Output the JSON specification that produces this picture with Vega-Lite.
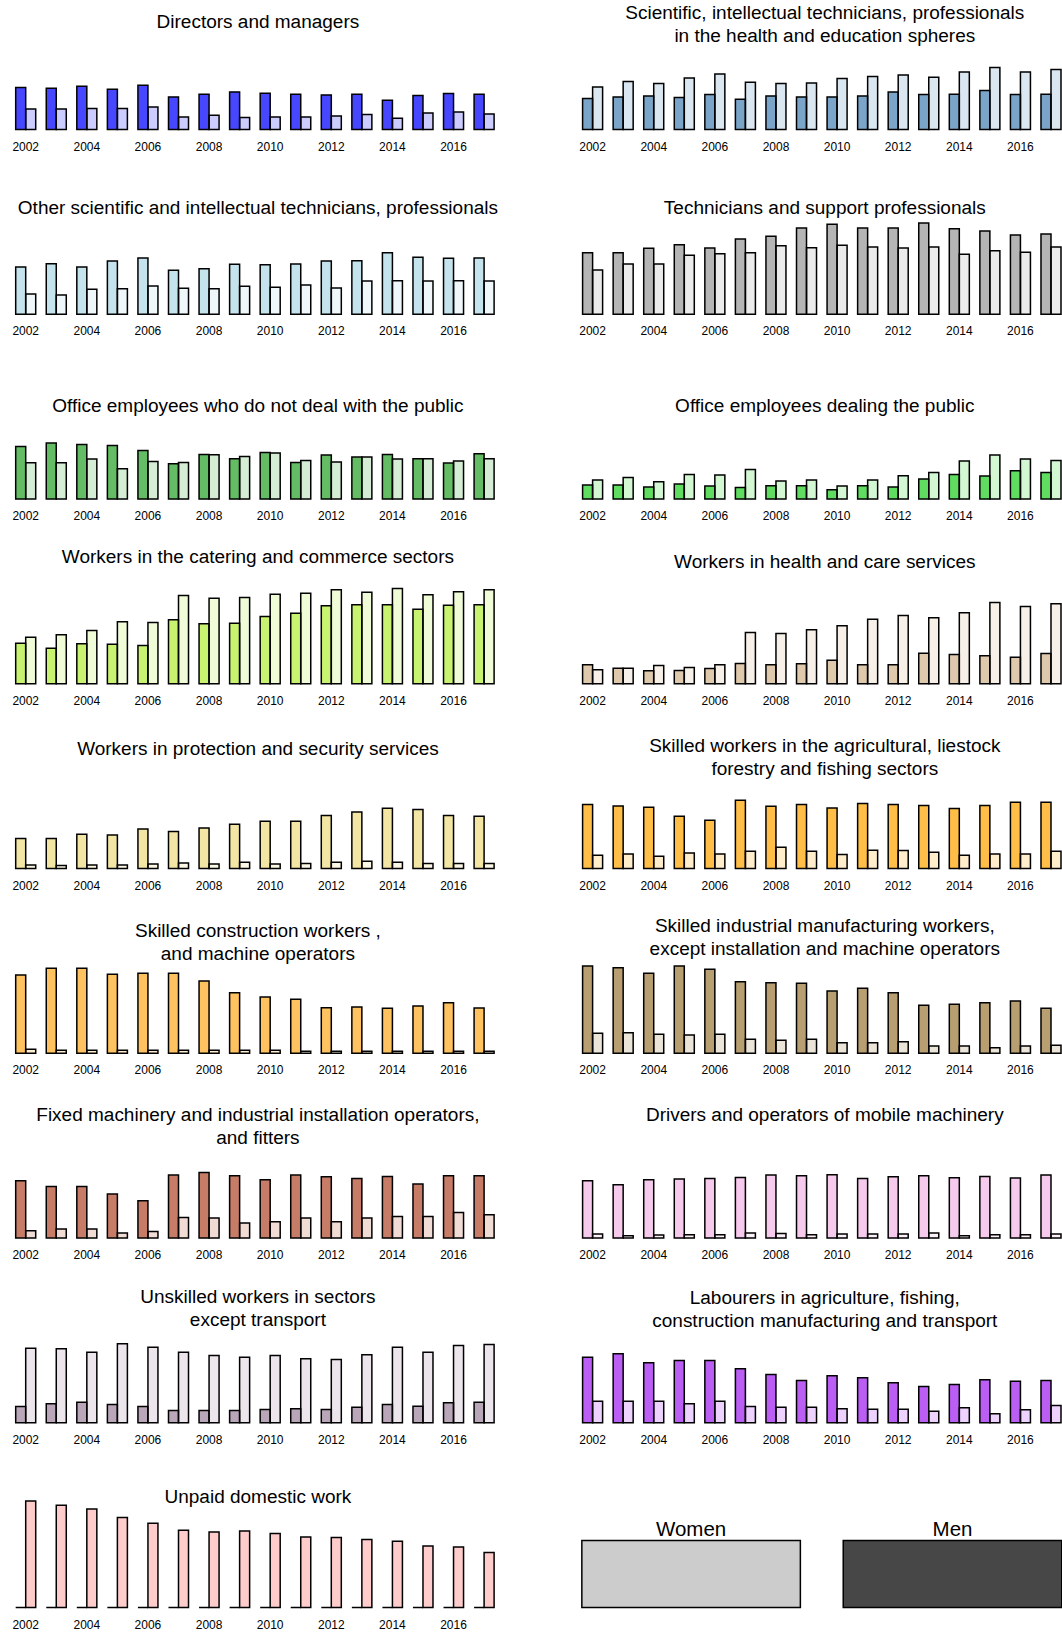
{
  "$schema": "https://vega.github.io/schema/vega-lite/v6.json",
  "padding": {"left": 10.5, "top": 3.6, "right": 0, "bottom": 0},
  "columns": 2,
  "bounds": "flush",
  "spacing": {"row": 72.75, "column": 77.9},
  "config": {
    "font": "Liberation Sans",
    "view": {"stroke": null},
    "title": {"fontSize": 19, "fontWeight": "normal", "color": "black", "anchor": "middle", "frame": "group", "lineHeight": 23, "dx": 3},
    "axisX": {"domain": false, "ticks": false, "tickSize": 0, "labelPadding": 11.5, "labelAngle": 0, "labelFontSize": 12, "labelColor": "black", "grid": false, "labelExpr": "datum.value % 2 == 0 ? datum.label : ''"}
  },
  "datasets": {
    "p01": [
      {"year":2002,"sex":"Men","v":42},{"year":2003,"sex":"Men","v":41.3},{"year":2004,"sex":"Men","v":43.3},{"year":2005,"sex":"Men","v":40.3},{"year":2006,"sex":"Men","v":44.3},{"year":2007,"sex":"Men","v":32.7},{"year":2008,"sex":"Men","v":35.3},{"year":2009,"sex":"Men","v":37.7},{"year":2010,"sex":"Men","v":36.3},{"year":2011,"sex":"Men","v":35.3},{"year":2012,"sex":"Men","v":34.7},{"year":2013,"sex":"Men","v":35.3},{"year":2014,"sex":"Men","v":29.3},{"year":2015,"sex":"Men","v":34},{"year":2016,"sex":"Men","v":36},{"year":2017,"sex":"Men","v":35.3},
      {"year":2002,"sex":"Women","v":20.7},{"year":2003,"sex":"Women","v":20.7},{"year":2004,"sex":"Women","v":21},{"year":2005,"sex":"Women","v":21},{"year":2006,"sex":"Women","v":22.7},{"year":2007,"sex":"Women","v":12.7},{"year":2008,"sex":"Women","v":14.3},{"year":2009,"sex":"Women","v":12},{"year":2010,"sex":"Women","v":12.7},{"year":2011,"sex":"Women","v":12.7},{"year":2012,"sex":"Women","v":13.7},{"year":2013,"sex":"Women","v":15},{"year":2014,"sex":"Women","v":11.3},{"year":2015,"sex":"Women","v":16.7},{"year":2016,"sex":"Women","v":17.7},{"year":2017,"sex":"Women","v":15.7}
    ],
    "p02": [
      {"year":2002,"sex":"Men","v":31},{"year":2003,"sex":"Men","v":32.7},{"year":2004,"sex":"Men","v":33.7},{"year":2005,"sex":"Men","v":32},{"year":2006,"sex":"Men","v":35},{"year":2007,"sex":"Men","v":30.3},{"year":2008,"sex":"Men","v":33.7},{"year":2009,"sex":"Men","v":32.7},{"year":2010,"sex":"Men","v":32.7},{"year":2011,"sex":"Men","v":33.7},{"year":2012,"sex":"Men","v":37.7},{"year":2013,"sex":"Men","v":35},{"year":2014,"sex":"Men","v":35.3},{"year":2015,"sex":"Men","v":39},{"year":2016,"sex":"Men","v":35},{"year":2017,"sex":"Men","v":35.3},
      {"year":2002,"sex":"Women","v":42.7},{"year":2003,"sex":"Women","v":48},{"year":2004,"sex":"Women","v":46},{"year":2005,"sex":"Women","v":51.7},{"year":2006,"sex":"Women","v":55.7},{"year":2007,"sex":"Women","v":47.3},{"year":2008,"sex":"Women","v":46},{"year":2009,"sex":"Women","v":46.7},{"year":2010,"sex":"Women","v":51},{"year":2011,"sex":"Women","v":53},{"year":2012,"sex":"Women","v":54.7},{"year":2013,"sex":"Women","v":52.3},{"year":2014,"sex":"Women","v":57.7},{"year":2015,"sex":"Women","v":62},{"year":2016,"sex":"Women","v":57.7},{"year":2017,"sex":"Women","v":60}
    ],
    "p03": [
      {"year":2002,"sex":"Men","v":47.3},{"year":2003,"sex":"Men","v":50.7},{"year":2004,"sex":"Men","v":47.3},{"year":2005,"sex":"Men","v":53.3},{"year":2006,"sex":"Men","v":56.3},{"year":2007,"sex":"Men","v":44},{"year":2008,"sex":"Men","v":45.7},{"year":2009,"sex":"Men","v":50},{"year":2010,"sex":"Men","v":49.7},{"year":2011,"sex":"Men","v":50.3},{"year":2012,"sex":"Men","v":53.3},{"year":2013,"sex":"Men","v":53.7},{"year":2014,"sex":"Men","v":61.7},{"year":2015,"sex":"Men","v":57},{"year":2016,"sex":"Men","v":56},{"year":2017,"sex":"Men","v":56.3},
      {"year":2002,"sex":"Women","v":20.3},{"year":2003,"sex":"Women","v":19.3},{"year":2004,"sex":"Women","v":25},{"year":2005,"sex":"Women","v":25.7},{"year":2006,"sex":"Women","v":28.3},{"year":2007,"sex":"Women","v":26},{"year":2008,"sex":"Women","v":25.7},{"year":2009,"sex":"Women","v":28},{"year":2010,"sex":"Women","v":27},{"year":2011,"sex":"Women","v":29.3},{"year":2012,"sex":"Women","v":26.3},{"year":2013,"sex":"Women","v":33.3},{"year":2014,"sex":"Women","v":33.7},{"year":2015,"sex":"Women","v":33.3},{"year":2016,"sex":"Women","v":33.7},{"year":2017,"sex":"Women","v":33.3}
    ],
    "p04": [
      {"year":2002,"sex":"Men","v":61.7},{"year":2003,"sex":"Men","v":61.7},{"year":2004,"sex":"Men","v":66},{"year":2005,"sex":"Men","v":69.7},{"year":2006,"sex":"Men","v":66.3},{"year":2007,"sex":"Men","v":75.3},{"year":2008,"sex":"Men","v":78},{"year":2009,"sex":"Men","v":86.3},{"year":2010,"sex":"Men","v":90},{"year":2011,"sex":"Men","v":86.3},{"year":2012,"sex":"Men","v":86.3},{"year":2013,"sex":"Men","v":91.3},{"year":2014,"sex":"Men","v":85.7},{"year":2015,"sex":"Men","v":83.3},{"year":2016,"sex":"Men","v":79.3},{"year":2017,"sex":"Men","v":80.3},
      {"year":2002,"sex":"Women","v":44.3},{"year":2003,"sex":"Women","v":50.3},{"year":2004,"sex":"Women","v":50.3},{"year":2005,"sex":"Women","v":59},{"year":2006,"sex":"Women","v":60.7},{"year":2007,"sex":"Women","v":61.7},{"year":2008,"sex":"Women","v":68.7},{"year":2009,"sex":"Women","v":66.7},{"year":2010,"sex":"Women","v":69},{"year":2011,"sex":"Women","v":67.3},{"year":2012,"sex":"Women","v":66.3},{"year":2013,"sex":"Women","v":67.3},{"year":2014,"sex":"Women","v":60},{"year":2015,"sex":"Women","v":63.7},{"year":2016,"sex":"Women","v":62},{"year":2017,"sex":"Women","v":67.3}
    ],
    "p05": [
      {"year":2002,"sex":"Men","v":52.7},{"year":2003,"sex":"Men","v":56},{"year":2004,"sex":"Men","v":54.7},{"year":2005,"sex":"Men","v":53.7},{"year":2006,"sex":"Men","v":48.7},{"year":2007,"sex":"Men","v":35.3},{"year":2008,"sex":"Men","v":44.7},{"year":2009,"sex":"Men","v":40.3},{"year":2010,"sex":"Men","v":46.7},{"year":2011,"sex":"Men","v":36.7},{"year":2012,"sex":"Men","v":44},{"year":2013,"sex":"Men","v":42},{"year":2014,"sex":"Men","v":44.7},{"year":2015,"sex":"Men","v":40.3},{"year":2016,"sex":"Men","v":36},{"year":2017,"sex":"Men","v":45.3},
      {"year":2002,"sex":"Women","v":36.3},{"year":2003,"sex":"Women","v":36.3},{"year":2004,"sex":"Women","v":40},{"year":2005,"sex":"Women","v":30.3},{"year":2006,"sex":"Women","v":37.7},{"year":2007,"sex":"Women","v":36.7},{"year":2008,"sex":"Women","v":44.3},{"year":2009,"sex":"Women","v":42.7},{"year":2010,"sex":"Women","v":46},{"year":2011,"sex":"Women","v":38.7},{"year":2012,"sex":"Women","v":37},{"year":2013,"sex":"Women","v":42},{"year":2014,"sex":"Women","v":40},{"year":2015,"sex":"Women","v":40.3},{"year":2016,"sex":"Women","v":38},{"year":2017,"sex":"Women","v":40.3}
    ],
    "p06": [
      {"year":2002,"sex":"Men","v":14},{"year":2003,"sex":"Men","v":14},{"year":2004,"sex":"Men","v":12},{"year":2005,"sex":"Men","v":15},{"year":2006,"sex":"Men","v":13},{"year":2007,"sex":"Men","v":11.7},{"year":2008,"sex":"Men","v":13.3},{"year":2009,"sex":"Men","v":13.3},{"year":2010,"sex":"Men","v":9.3},{"year":2011,"sex":"Men","v":13.3},{"year":2012,"sex":"Men","v":12},{"year":2013,"sex":"Men","v":20},{"year":2014,"sex":"Men","v":24.7},{"year":2015,"sex":"Men","v":23},{"year":2016,"sex":"Men","v":28.3},{"year":2017,"sex":"Men","v":26.7},
      {"year":2002,"sex":"Women","v":19},{"year":2003,"sex":"Women","v":21.7},{"year":2004,"sex":"Women","v":17.3},{"year":2005,"sex":"Women","v":24.7},{"year":2006,"sex":"Women","v":24},{"year":2007,"sex":"Women","v":29.7},{"year":2008,"sex":"Women","v":18},{"year":2009,"sex":"Women","v":19},{"year":2010,"sex":"Women","v":13},{"year":2011,"sex":"Women","v":19},{"year":2012,"sex":"Women","v":23.3},{"year":2013,"sex":"Women","v":26.7},{"year":2014,"sex":"Women","v":38},{"year":2015,"sex":"Women","v":44},{"year":2016,"sex":"Women","v":40},{"year":2017,"sex":"Women","v":38.7}
    ],
    "p07": [
      {"year":2002,"sex":"Men","v":40.7},{"year":2003,"sex":"Men","v":35.7},{"year":2004,"sex":"Men","v":40},{"year":2005,"sex":"Men","v":39.7},{"year":2006,"sex":"Men","v":38.3},{"year":2007,"sex":"Men","v":64},{"year":2008,"sex":"Men","v":60},{"year":2009,"sex":"Men","v":60.7},{"year":2010,"sex":"Men","v":67.3},{"year":2011,"sex":"Men","v":70.7},{"year":2012,"sex":"Men","v":78},{"year":2013,"sex":"Men","v":79},{"year":2014,"sex":"Men","v":79},{"year":2015,"sex":"Men","v":74.7},{"year":2016,"sex":"Men","v":78.7},{"year":2017,"sex":"Men","v":79},
      {"year":2002,"sex":"Women","v":46.7},{"year":2003,"sex":"Women","v":49},{"year":2004,"sex":"Women","v":53.3},{"year":2005,"sex":"Women","v":62},{"year":2006,"sex":"Women","v":61.3},{"year":2007,"sex":"Women","v":88.3},{"year":2008,"sex":"Women","v":85.7},{"year":2009,"sex":"Women","v":86.3},{"year":2010,"sex":"Women","v":89.7},{"year":2011,"sex":"Women","v":90.7},{"year":2012,"sex":"Women","v":94},{"year":2013,"sex":"Women","v":91.7},{"year":2014,"sex":"Women","v":95.3},{"year":2015,"sex":"Women","v":89},{"year":2016,"sex":"Women","v":92},{"year":2017,"sex":"Women","v":94}
    ],
    "p08": [
      {"year":2002,"sex":"Men","v":19},{"year":2003,"sex":"Men","v":15.7},{"year":2004,"sex":"Men","v":13},{"year":2005,"sex":"Men","v":13.3},{"year":2006,"sex":"Men","v":15.3},{"year":2007,"sex":"Men","v":20.3},{"year":2008,"sex":"Men","v":19},{"year":2009,"sex":"Men","v":20},{"year":2010,"sex":"Men","v":23.7},{"year":2011,"sex":"Men","v":19},{"year":2012,"sex":"Men","v":19},{"year":2013,"sex":"Men","v":30.7},{"year":2014,"sex":"Men","v":29.3},{"year":2015,"sex":"Men","v":28},{"year":2016,"sex":"Men","v":26.7},{"year":2017,"sex":"Men","v":30.3},
      {"year":2002,"sex":"Women","v":14},{"year":2003,"sex":"Women","v":15.7},{"year":2004,"sex":"Women","v":18.3},{"year":2005,"sex":"Women","v":16.3},{"year":2006,"sex":"Women","v":19},{"year":2007,"sex":"Women","v":51.3},{"year":2008,"sex":"Women","v":50.3},{"year":2009,"sex":"Women","v":54},{"year":2010,"sex":"Women","v":58},{"year":2011,"sex":"Women","v":64.7},{"year":2012,"sex":"Women","v":68.3},{"year":2013,"sex":"Women","v":66},{"year":2014,"sex":"Women","v":71},{"year":2015,"sex":"Women","v":81.3},{"year":2016,"sex":"Women","v":77.3},{"year":2017,"sex":"Women","v":80}
    ],
    "p09": [
      {"year":2002,"sex":"Men","v":30},{"year":2003,"sex":"Men","v":30},{"year":2004,"sex":"Men","v":34.3},{"year":2005,"sex":"Men","v":33.7},{"year":2006,"sex":"Men","v":39.7},{"year":2007,"sex":"Men","v":37},{"year":2008,"sex":"Men","v":40.7},{"year":2009,"sex":"Men","v":44.3},{"year":2010,"sex":"Men","v":47.3},{"year":2011,"sex":"Men","v":47.3},{"year":2012,"sex":"Men","v":53},{"year":2013,"sex":"Men","v":56.7},{"year":2014,"sex":"Men","v":60.3},{"year":2015,"sex":"Men","v":59},{"year":2016,"sex":"Men","v":53},{"year":2017,"sex":"Men","v":52.3},
      {"year":2002,"sex":"Women","v":3.7},{"year":2003,"sex":"Women","v":3},{"year":2004,"sex":"Women","v":3.7},{"year":2005,"sex":"Women","v":3.7},{"year":2006,"sex":"Women","v":4.7},{"year":2007,"sex":"Women","v":5.7},{"year":2008,"sex":"Women","v":4.7},{"year":2009,"sex":"Women","v":6.3},{"year":2010,"sex":"Women","v":4.7},{"year":2011,"sex":"Women","v":5},{"year":2012,"sex":"Women","v":6.3},{"year":2013,"sex":"Women","v":7.3},{"year":2014,"sex":"Women","v":6.3},{"year":2015,"sex":"Women","v":5},{"year":2016,"sex":"Women","v":5},{"year":2017,"sex":"Women","v":5}
    ],
    "p10": [
      {"year":2002,"sex":"Men","v":64},{"year":2003,"sex":"Men","v":62.7},{"year":2004,"sex":"Men","v":61.3},{"year":2005,"sex":"Men","v":52.3},{"year":2006,"sex":"Men","v":48.3},{"year":2007,"sex":"Men","v":68.3},{"year":2008,"sex":"Men","v":62.3},{"year":2009,"sex":"Men","v":64},{"year":2010,"sex":"Men","v":60.7},{"year":2011,"sex":"Men","v":65},{"year":2012,"sex":"Men","v":64},{"year":2013,"sex":"Men","v":63},{"year":2014,"sex":"Men","v":60},{"year":2015,"sex":"Men","v":63},{"year":2016,"sex":"Men","v":66.3},{"year":2017,"sex":"Men","v":66.3},
      {"year":2002,"sex":"Women","v":13.3},{"year":2003,"sex":"Women","v":14.7},{"year":2004,"sex":"Women","v":12.3},{"year":2005,"sex":"Women","v":15.7},{"year":2006,"sex":"Women","v":14.7},{"year":2007,"sex":"Women","v":17.3},{"year":2008,"sex":"Women","v":21.3},{"year":2009,"sex":"Women","v":17.3},{"year":2010,"sex":"Women","v":14},{"year":2011,"sex":"Women","v":18.3},{"year":2012,"sex":"Women","v":18},{"year":2013,"sex":"Women","v":16.3},{"year":2014,"sex":"Women","v":13.3},{"year":2015,"sex":"Women","v":14.7},{"year":2016,"sex":"Women","v":14.7},{"year":2017,"sex":"Women","v":17.3}
    ],
    "p11": [
      {"year":2002,"sex":"Men","v":78.3},{"year":2003,"sex":"Men","v":85},{"year":2004,"sex":"Men","v":85},{"year":2005,"sex":"Men","v":79},{"year":2006,"sex":"Men","v":80},{"year":2007,"sex":"Men","v":80},{"year":2008,"sex":"Men","v":72.3},{"year":2009,"sex":"Men","v":60.7},{"year":2010,"sex":"Men","v":56.3},{"year":2011,"sex":"Men","v":54},{"year":2012,"sex":"Men","v":45.7},{"year":2013,"sex":"Men","v":46.3},{"year":2014,"sex":"Men","v":45},{"year":2015,"sex":"Men","v":47.3},{"year":2016,"sex":"Men","v":50.7},{"year":2017,"sex":"Men","v":45.3},
      {"year":2002,"sex":"Women","v":4},{"year":2003,"sex":"Women","v":3},{"year":2004,"sex":"Women","v":3},{"year":2005,"sex":"Women","v":3},{"year":2006,"sex":"Women","v":3},{"year":2007,"sex":"Women","v":3},{"year":2008,"sex":"Women","v":3},{"year":2009,"sex":"Women","v":3},{"year":2010,"sex":"Women","v":3},{"year":2011,"sex":"Women","v":2},{"year":2012,"sex":"Women","v":2},{"year":2013,"sex":"Women","v":2},{"year":2014,"sex":"Women","v":2},{"year":2015,"sex":"Women","v":2},{"year":2016,"sex":"Women","v":2},{"year":2017,"sex":"Women","v":2}
    ],
    "p12": [
      {"year":2002,"sex":"Men","v":87.3},{"year":2003,"sex":"Men","v":85.7},{"year":2004,"sex":"Men","v":80},{"year":2005,"sex":"Men","v":87.3},{"year":2006,"sex":"Men","v":84},{"year":2007,"sex":"Men","v":71.7},{"year":2008,"sex":"Men","v":70.7},{"year":2009,"sex":"Men","v":70},{"year":2010,"sex":"Men","v":62.3},{"year":2011,"sex":"Men","v":65},{"year":2012,"sex":"Men","v":60.7},{"year":2013,"sex":"Men","v":48},{"year":2014,"sex":"Men","v":49},{"year":2015,"sex":"Men","v":50.7},{"year":2016,"sex":"Men","v":52.3},{"year":2017,"sex":"Men","v":45},
      {"year":2002,"sex":"Women","v":20},{"year":2003,"sex":"Women","v":20.7},{"year":2004,"sex":"Women","v":19},{"year":2005,"sex":"Women","v":18.3},{"year":2006,"sex":"Women","v":19},{"year":2007,"sex":"Women","v":14},{"year":2008,"sex":"Women","v":13},{"year":2009,"sex":"Women","v":14},{"year":2010,"sex":"Women","v":10.7},{"year":2011,"sex":"Women","v":10.7},{"year":2012,"sex":"Women","v":11.7},{"year":2013,"sex":"Women","v":7.3},{"year":2014,"sex":"Women","v":7.3},{"year":2015,"sex":"Women","v":5.7},{"year":2016,"sex":"Women","v":7.3},{"year":2017,"sex":"Women","v":8}
    ],
    "p13": [
      {"year":2002,"sex":"Men","v":57.3},{"year":2003,"sex":"Men","v":51.7},{"year":2004,"sex":"Men","v":51.7},{"year":2005,"sex":"Men","v":44},{"year":2006,"sex":"Men","v":37.3},{"year":2007,"sex":"Men","v":63},{"year":2008,"sex":"Men","v":65.7},{"year":2009,"sex":"Men","v":62.3},{"year":2010,"sex":"Men","v":58.3},{"year":2011,"sex":"Men","v":63},{"year":2012,"sex":"Men","v":61.3},{"year":2013,"sex":"Men","v":59.7},{"year":2014,"sex":"Men","v":61.7},{"year":2015,"sex":"Men","v":54},{"year":2016,"sex":"Men","v":62.3},{"year":2017,"sex":"Men","v":62.3},
      {"year":2002,"sex":"Women","v":7.3},{"year":2003,"sex":"Women","v":9},{"year":2004,"sex":"Women","v":9},{"year":2005,"sex":"Women","v":5},{"year":2006,"sex":"Women","v":6.7},{"year":2007,"sex":"Women","v":20.7},{"year":2008,"sex":"Women","v":20},{"year":2009,"sex":"Women","v":15},{"year":2010,"sex":"Women","v":16.3},{"year":2011,"sex":"Women","v":20},{"year":2012,"sex":"Women","v":16.3},{"year":2013,"sex":"Women","v":20},{"year":2014,"sex":"Women","v":21.7},{"year":2015,"sex":"Women","v":21.7},{"year":2016,"sex":"Women","v":25.7},{"year":2017,"sex":"Women","v":23.3}
    ],
    "p14": [
      {"year":2002,"sex":"Men","v":57.3},{"year":2003,"sex":"Men","v":53.3},{"year":2004,"sex":"Men","v":58.3},{"year":2005,"sex":"Men","v":59},{"year":2006,"sex":"Men","v":59.7},{"year":2007,"sex":"Men","v":60.7},{"year":2008,"sex":"Men","v":63},{"year":2009,"sex":"Men","v":62.3},{"year":2010,"sex":"Men","v":63.3},{"year":2011,"sex":"Men","v":59.7},{"year":2012,"sex":"Men","v":61.3},{"year":2013,"sex":"Men","v":62.3},{"year":2014,"sex":"Men","v":60.3},{"year":2015,"sex":"Men","v":61.7},{"year":2016,"sex":"Men","v":60},{"year":2017,"sex":"Men","v":63},
      {"year":2002,"sex":"Women","v":4},{"year":2003,"sex":"Women","v":2.3},{"year":2004,"sex":"Women","v":3},{"year":2005,"sex":"Women","v":3.3},{"year":2006,"sex":"Women","v":3.3},{"year":2007,"sex":"Women","v":5},{"year":2008,"sex":"Women","v":4.7},{"year":2009,"sex":"Women","v":3.3},{"year":2010,"sex":"Women","v":4},{"year":2011,"sex":"Women","v":4},{"year":2012,"sex":"Women","v":4},{"year":2013,"sex":"Women","v":5},{"year":2014,"sex":"Women","v":2.3},{"year":2015,"sex":"Women","v":3.3},{"year":2016,"sex":"Women","v":3.3},{"year":2017,"sex":"Women","v":4}
    ],
    "p15": [
      {"year":2002,"sex":"Men","v":16.3},{"year":2003,"sex":"Men","v":19},{"year":2004,"sex":"Men","v":20.7},{"year":2005,"sex":"Men","v":18.3},{"year":2006,"sex":"Men","v":16.3},{"year":2007,"sex":"Men","v":12.3},{"year":2008,"sex":"Men","v":12.3},{"year":2009,"sex":"Men","v":12.3},{"year":2010,"sex":"Men","v":13.3},{"year":2011,"sex":"Men","v":14},{"year":2012,"sex":"Men","v":13.3},{"year":2013,"sex":"Men","v":15.7},{"year":2014,"sex":"Men","v":18.3},{"year":2015,"sex":"Men","v":16.7},{"year":2016,"sex":"Men","v":20},{"year":2017,"sex":"Men","v":20.7},
      {"year":2002,"sex":"Women","v":74.7},{"year":2003,"sex":"Women","v":74},{"year":2004,"sex":"Women","v":70.7},{"year":2005,"sex":"Women","v":79},{"year":2006,"sex":"Women","v":75.7},{"year":2007,"sex":"Women","v":70.7},{"year":2008,"sex":"Women","v":67.3},{"year":2009,"sex":"Women","v":65.7},{"year":2010,"sex":"Women","v":67.3},{"year":2011,"sex":"Women","v":64},{"year":2012,"sex":"Women","v":63.3},{"year":2013,"sex":"Women","v":68},{"year":2014,"sex":"Women","v":75.7},{"year":2015,"sex":"Women","v":70.7},{"year":2016,"sex":"Women","v":77.3},{"year":2017,"sex":"Women","v":78.3}
    ],
    "p16": [
      {"year":2002,"sex":"Men","v":65.7},{"year":2003,"sex":"Men","v":69},{"year":2004,"sex":"Men","v":60},{"year":2005,"sex":"Men","v":62.3},{"year":2006,"sex":"Men","v":62.3},{"year":2007,"sex":"Men","v":54},{"year":2008,"sex":"Men","v":48.3},{"year":2009,"sex":"Men","v":42.3},{"year":2010,"sex":"Men","v":47},{"year":2011,"sex":"Men","v":45},{"year":2012,"sex":"Men","v":40},{"year":2013,"sex":"Men","v":36.3},{"year":2014,"sex":"Men","v":38.3},{"year":2015,"sex":"Men","v":43},{"year":2016,"sex":"Men","v":41.7},{"year":2017,"sex":"Men","v":42.3},
      {"year":2002,"sex":"Women","v":21.7},{"year":2003,"sex":"Women","v":21.7},{"year":2004,"sex":"Women","v":21.7},{"year":2005,"sex":"Women","v":19},{"year":2006,"sex":"Women","v":21.7},{"year":2007,"sex":"Women","v":16.3},{"year":2008,"sex":"Women","v":15.7},{"year":2009,"sex":"Women","v":15.7},{"year":2010,"sex":"Women","v":14},{"year":2011,"sex":"Women","v":13.7},{"year":2012,"sex":"Women","v":13.7},{"year":2013,"sex":"Women","v":11.7},{"year":2014,"sex":"Women","v":15},{"year":2015,"sex":"Women","v":9},{"year":2016,"sex":"Women","v":13},{"year":2017,"sex":"Women","v":17.3}
    ],
    "p17": [
      {"year":2002,"sex":"Men","v":0},{"year":2003,"sex":"Men","v":0},{"year":2004,"sex":"Men","v":0},{"year":2005,"sex":"Men","v":0},{"year":2006,"sex":"Men","v":0},{"year":2007,"sex":"Men","v":0},{"year":2008,"sex":"Men","v":0},{"year":2009,"sex":"Men","v":0},{"year":2010,"sex":"Men","v":0},{"year":2011,"sex":"Men","v":0},{"year":2012,"sex":"Men","v":0},{"year":2013,"sex":"Men","v":0},{"year":2014,"sex":"Men","v":0},{"year":2015,"sex":"Men","v":0},{"year":2016,"sex":"Men","v":0},{"year":2017,"sex":"Men","v":0},
      {"year":2002,"sex":"Women","v":106.7},{"year":2003,"sex":"Women","v":102.3},{"year":2004,"sex":"Women","v":98.7},{"year":2005,"sex":"Women","v":90},{"year":2006,"sex":"Women","v":84.3},{"year":2007,"sex":"Women","v":77.3},{"year":2008,"sex":"Women","v":75.7},{"year":2009,"sex":"Women","v":76.7},{"year":2010,"sex":"Women","v":74},{"year":2011,"sex":"Women","v":70.7},{"year":2012,"sex":"Women","v":70},{"year":2013,"sex":"Women","v":68},{"year":2014,"sex":"Women","v":66.3},{"year":2015,"sex":"Women","v":61.7},{"year":2016,"sex":"Women","v":60.7},{"year":2017,"sex":"Women","v":55}
    ],
    "key": [{"sex": "Women"}, {"sex": "Men"}]
  },
  "concat": [
    {"title": {"text": "Directors and managers", "offset": -14.2}, "width": 488.8, "height": 112, "data": {"name": "p01"},
     "mark": {"type": "bar", "fill": "#0000ff", "stroke": "black", "strokeWidth": 1.5},
     "encoding": {"x": {"field": "year", "type": "ordinal", "scale": {"paddingInner": 0.345, "paddingOuter": 0.17}, "axis": {"title": null}}, "xOffset": {"field": "sex", "type": "nominal", "sort": ["Men", "Women"], "scale": {"paddingInner": 0, "paddingOuter": 0}}, "y": {"field": "v", "type": "quantitative", "scale": {"domain": [0, 112], "nice": false}, "axis": null}, "fillOpacity": {"field": "sex", "type": "nominal", "scale": {"domain": ["Men", "Women"], "range": [0.72, 0.2]}, "legend": null}}},
    {"title": {"text": ["Scientific, intellectual technicians, professionals", "in the health and education spheres"], "offset": -28.3}, "width": 488.8, "height": 112, "data": {"name": "p02"},
     "mark": {"type": "bar", "fill": "#4682b4", "stroke": "black", "strokeWidth": 1.5},
     "encoding": {"x": {"field": "year", "type": "ordinal", "scale": {"paddingInner": 0.345, "paddingOuter": 0.17}, "axis": {"title": null}}, "xOffset": {"field": "sex", "type": "nominal", "sort": ["Men", "Women"], "scale": {"paddingInner": 0, "paddingOuter": 0}}, "y": {"field": "v", "type": "quantitative", "scale": {"domain": [0, 112], "nice": false}, "axis": null}, "fillOpacity": {"field": "sex", "type": "nominal", "scale": {"domain": ["Men", "Women"], "range": [0.72, 0.2]}, "legend": null}}},
    {"title": {"text": "Other scientific and intellectual technicians, professionals", "offset": -15.5}, "width": 488.8, "height": 112, "data": {"name": "p03"},
     "mark": {"type": "bar", "fill": "#add8e6", "stroke": "black", "strokeWidth": 1.5},
     "encoding": {"x": {"field": "year", "type": "ordinal", "scale": {"paddingInner": 0.345, "paddingOuter": 0.17}, "axis": {"title": null}}, "xOffset": {"field": "sex", "type": "nominal", "sort": ["Men", "Women"], "scale": {"paddingInner": 0, "paddingOuter": 0}}, "y": {"field": "v", "type": "quantitative", "scale": {"domain": [0, 112], "nice": false}, "axis": null}, "fillOpacity": {"field": "sex", "type": "nominal", "scale": {"domain": ["Men", "Women"], "range": [0.72, 0.2]}, "legend": null}}},
    {"title": {"text": "Technicians and support professionals", "offset": -15.5}, "width": 488.8, "height": 112, "data": {"name": "p04"},
     "mark": {"type": "bar", "fill": "#999999", "stroke": "black", "strokeWidth": 1.5},
     "encoding": {"x": {"field": "year", "type": "ordinal", "scale": {"paddingInner": 0.345, "paddingOuter": 0.17}, "axis": {"title": null}}, "xOffset": {"field": "sex", "type": "nominal", "sort": ["Men", "Women"], "scale": {"paddingInner": 0, "paddingOuter": 0}}, "y": {"field": "v", "type": "quantitative", "scale": {"domain": [0, 112], "nice": false}, "axis": null}, "fillOpacity": {"field": "sex", "type": "nominal", "scale": {"domain": ["Men", "Women"], "range": [0.72, 0.2]}, "legend": null}}},
    {"title": {"text": "Office employees who do not deal with the public", "offset": -29}, "width": 488.8, "height": 112, "data": {"name": "p05"},
     "mark": {"type": "bar", "fill": "#28a428", "stroke": "black", "strokeWidth": 1.5},
     "encoding": {"x": {"field": "year", "type": "ordinal", "scale": {"paddingInner": 0.345, "paddingOuter": 0.17}, "axis": {"title": null}}, "xOffset": {"field": "sex", "type": "nominal", "sort": ["Men", "Women"], "scale": {"paddingInner": 0, "paddingOuter": 0}}, "y": {"field": "v", "type": "quantitative", "scale": {"domain": [0, 112], "nice": false}, "axis": null}, "fillOpacity": {"field": "sex", "type": "nominal", "scale": {"domain": ["Men", "Women"], "range": [0.72, 0.2]}, "legend": null}}},
    {"title": {"text": "Office employees dealing the public", "offset": -29}, "width": 488.8, "height": 112, "data": {"name": "p06"},
     "mark": {"type": "bar", "fill": "#22d022", "stroke": "black", "strokeWidth": 1.5},
     "encoding": {"x": {"field": "year", "type": "ordinal", "scale": {"paddingInner": 0.345, "paddingOuter": 0.17}, "axis": {"title": null}}, "xOffset": {"field": "sex", "type": "nominal", "sort": ["Men", "Women"], "scale": {"paddingInner": 0, "paddingOuter": 0}}, "y": {"field": "v", "type": "quantitative", "scale": {"domain": [0, 112], "nice": false}, "axis": null}, "fillOpacity": {"field": "sex", "type": "nominal", "scale": {"domain": ["Men", "Women"], "range": [0.72, 0.2]}, "legend": null}}},
    {"title": {"text": "Workers in the catering and commerce sectors", "offset": 4.5}, "width": 488.8, "height": 112, "data": {"name": "p07"},
     "mark": {"type": "bar", "fill": "#b3ee3a", "stroke": "black", "strokeWidth": 1.5},
     "encoding": {"x": {"field": "year", "type": "ordinal", "scale": {"paddingInner": 0.345, "paddingOuter": 0.17}, "axis": {"title": null}}, "xOffset": {"field": "sex", "type": "nominal", "sort": ["Men", "Women"], "scale": {"paddingInner": 0, "paddingOuter": 0}}, "y": {"field": "v", "type": "quantitative", "scale": {"domain": [0, 112], "nice": false}, "axis": null}, "fillOpacity": {"field": "sex", "type": "nominal", "scale": {"domain": ["Men", "Women"], "range": [0.72, 0.2]}, "legend": null}}},
    {"title": {"text": "Workers in health and care services", "offset": 0.2}, "width": 488.8, "height": 112, "data": {"name": "p08"},
     "mark": {"type": "bar", "fill": "#d2b48c", "stroke": "black", "strokeWidth": 1.5},
     "encoding": {"x": {"field": "year", "type": "ordinal", "scale": {"paddingInner": 0.345, "paddingOuter": 0.17}, "axis": {"title": null}}, "xOffset": {"field": "sex", "type": "nominal", "sort": ["Men", "Women"], "scale": {"paddingInner": 0, "paddingOuter": 0}}, "y": {"field": "v", "type": "quantitative", "scale": {"domain": [0, 112], "nice": false}, "axis": null}, "fillOpacity": {"field": "sex", "type": "nominal", "scale": {"domain": ["Men", "Women"], "range": [0.72, 0.2]}, "legend": null}}},
    {"title": {"text": "Workers in protection and security services", "offset": -2.1}, "width": 488.8, "height": 112, "data": {"name": "p09"},
     "mark": {"type": "bar", "fill": "#eedd82", "stroke": "black", "strokeWidth": 1.5},
     "encoding": {"x": {"field": "year", "type": "ordinal", "scale": {"paddingInner": 0.345, "paddingOuter": 0.17}, "axis": {"title": null}}, "xOffset": {"field": "sex", "type": "nominal", "sort": ["Men", "Women"], "scale": {"paddingInner": 0, "paddingOuter": 0}}, "y": {"field": "v", "type": "quantitative", "scale": {"domain": [0, 112], "nice": false}, "axis": null}, "fillOpacity": {"field": "sex", "type": "nominal", "scale": {"domain": ["Men", "Women"], "range": [0.72, 0.2]}, "legend": null}}},
    {"title": {"text": ["Skilled workers in the agricultural, liestock", "forestry and fishing sectors"], "offset": -22}, "width": 488.8, "height": 112, "data": {"name": "p10"},
     "mark": {"type": "bar", "fill": "#ffa500", "stroke": "black", "strokeWidth": 1.5},
     "encoding": {"x": {"field": "year", "type": "ordinal", "scale": {"paddingInner": 0.345, "paddingOuter": 0.17}, "axis": {"title": null}}, "xOffset": {"field": "sex", "type": "nominal", "sort": ["Men", "Women"], "scale": {"paddingInner": 0, "paddingOuter": 0}}, "y": {"field": "v", "type": "quantitative", "scale": {"domain": [0, 112], "nice": false}, "axis": null}, "fillOpacity": {"field": "sex", "type": "nominal", "scale": {"domain": ["Men", "Women"], "range": [0.72, 0.2]}, "legend": null}}},
    {"title": {"text": ["Skilled construction workers ,", "and machine operators"], "offset": -22.8}, "width": 488.8, "height": 112, "data": {"name": "p11"},
     "mark": {"type": "bar", "fill": "#ffaa22", "stroke": "black", "strokeWidth": 1.5},
     "encoding": {"x": {"field": "year", "type": "ordinal", "scale": {"paddingInner": 0.345, "paddingOuter": 0.17}, "axis": {"title": null}}, "xOffset": {"field": "sex", "type": "nominal", "sort": ["Men", "Women"], "scale": {"paddingInner": 0, "paddingOuter": 0}}, "y": {"field": "v", "type": "quantitative", "scale": {"domain": [0, 112], "nice": false}, "axis": null}, "fillOpacity": {"field": "sex", "type": "nominal", "scale": {"domain": ["Men", "Women"], "range": [0.72, 0.2]}, "legend": null}}},
    {"title": {"text": ["Skilled industrial manufacturing workers,", "except installation and machine operators"], "offset": -17.3}, "width": 488.8, "height": 112, "data": {"name": "p12"},
     "mark": {"type": "bar", "fill": "#9c7a3c", "stroke": "black", "strokeWidth": 1.5},
     "encoding": {"x": {"field": "year", "type": "ordinal", "scale": {"paddingInner": 0.345, "paddingOuter": 0.17}, "axis": {"title": null}}, "xOffset": {"field": "sex", "type": "nominal", "sort": ["Men", "Women"], "scale": {"paddingInner": 0, "paddingOuter": 0}}, "y": {"field": "v", "type": "quantitative", "scale": {"domain": [0, 112], "nice": false}, "axis": null}, "fillOpacity": {"field": "sex", "type": "nominal", "scale": {"domain": ["Men", "Women"], "range": [0.72, 0.2]}, "legend": null}}},
    {"title": {"text": ["Fixed machinery and industrial installation operators,", "and fitters"], "offset": -22}, "width": 488.8, "height": 112, "data": {"name": "p13"},
     "mark": {"type": "bar", "fill": "#b24a2e", "stroke": "black", "strokeWidth": 1.5},
     "encoding": {"x": {"field": "year", "type": "ordinal", "scale": {"paddingInner": 0.345, "paddingOuter": 0.17}, "axis": {"title": null}}, "xOffset": {"field": "sex", "type": "nominal", "sort": ["Men", "Women"], "scale": {"paddingInner": 0, "paddingOuter": 0}}, "y": {"field": "v", "type": "quantitative", "scale": {"domain": [0, 112], "nice": false}, "axis": null}, "fillOpacity": {"field": "sex", "type": "nominal", "scale": {"domain": ["Men", "Women"], "range": [0.72, 0.2]}, "legend": null}}},
    {"title": {"text": "Drivers and operators of mobile machinery", "offset": 1.2}, "width": 488.8, "height": 112, "data": {"name": "p14"},
     "mark": {"type": "bar", "fill": "#f2b5e6", "stroke": "black", "strokeWidth": 1.5},
     "encoding": {"x": {"field": "year", "type": "ordinal", "scale": {"paddingInner": 0.345, "paddingOuter": 0.17}, "axis": {"title": null}}, "xOffset": {"field": "sex", "type": "nominal", "sort": ["Men", "Women"], "scale": {"paddingInner": 0, "paddingOuter": 0}}, "y": {"field": "v", "type": "quantitative", "scale": {"domain": [0, 112], "nice": false}, "axis": null}, "fillOpacity": {"field": "sex", "type": "nominal", "scale": {"domain": ["Men", "Women"], "range": [0.72, 0.2]}, "legend": null}}},
    {"title": {"text": ["Unskilled workers in sectors", "except transport"], "offset": -19.3}, "width": 488.8, "height": 112, "data": {"name": "p15"},
     "mark": {"type": "bar", "fill": "#a0849e", "stroke": "black", "strokeWidth": 1.5},
     "encoding": {"x": {"field": "year", "type": "ordinal", "scale": {"paddingInner": 0.345, "paddingOuter": 0.17}, "axis": {"title": null}}, "xOffset": {"field": "sex", "type": "nominal", "sort": ["Men", "Women"], "scale": {"paddingInner": 0, "paddingOuter": 0}}, "y": {"field": "v", "type": "quantitative", "scale": {"domain": [0, 112], "nice": false}, "axis": null}, "fillOpacity": {"field": "sex", "type": "nominal", "scale": {"domain": ["Men", "Women"], "range": [0.72, 0.2]}, "legend": null}}},
    {"title": {"text": ["Labourers in agriculture, fishing,", "construction manufacturing and transport"], "offset": -19.9}, "width": 488.8, "height": 112, "data": {"name": "p16"},
     "mark": {"type": "bar", "fill": "#a020f0", "stroke": "black", "strokeWidth": 1.5},
     "encoding": {"x": {"field": "year", "type": "ordinal", "scale": {"paddingInner": 0.345, "paddingOuter": 0.17}, "axis": {"title": null}}, "xOffset": {"field": "sex", "type": "nominal", "sort": ["Men", "Women"], "scale": {"paddingInner": 0, "paddingOuter": 0}}, "y": {"field": "v", "type": "quantitative", "scale": {"domain": [0, 112], "nice": false}, "axis": null}, "fillOpacity": {"field": "sex", "type": "nominal", "scale": {"domain": ["Men", "Women"], "range": [0.72, 0.2]}, "legend": null}}},
    {"title": {"text": "Unpaid domestic work", "offset": -11.2}, "width": 488.8, "height": 112, "data": {"name": "p17"},
     "mark": {"type": "bar", "fill": "#ff0000", "stroke": "black", "strokeWidth": 1.5},
     "encoding": {"x": {"field": "year", "type": "ordinal", "scale": {"paddingInner": 0.345, "paddingOuter": 0.17}, "axis": {"title": null}}, "xOffset": {"field": "sex", "type": "nominal", "sort": ["Men", "Women"], "scale": {"paddingInner": 0, "paddingOuter": 0}}, "y": {"field": "v", "type": "quantitative", "scale": {"domain": [0, 112], "nice": false}, "axis": null}, "fillOpacity": {"field": "sex", "type": "nominal", "scale": {"domain": ["Men", "Women"], "range": [0.72, 0.2]}, "legend": null}}},
    {"width": 488.8, "height": 112, "data": {"name": "key"},
     "encoding": {"x": {"field": "sex", "type": "nominal", "sort": ["Women", "Men"], "scale": {"paddingInner": 0.164, "paddingOuter": 0.017}, "axis": null}},
     "layer": [
       {"mark": {"type": "bar", "fill": "black", "stroke": "black", "strokeWidth": 1.5},
        "encoding": {"y": {"datum": 67, "type": "quantitative", "scale": {"domain": [0, 112], "nice": false}, "axis": null}, "fillOpacity": {"field": "sex", "type": "nominal", "scale": {"domain": ["Men", "Women"], "range": [0.7, 0.18]}, "legend": null}}},
       {"mark": {"type": "text", "fontSize": 20.5, "baseline": "bottom", "dy": -1, "color": "black"},
        "encoding": {"y": {"datum": 67, "type": "quantitative"}, "text": {"field": "sex"}}}
     ]}
  ]
}
